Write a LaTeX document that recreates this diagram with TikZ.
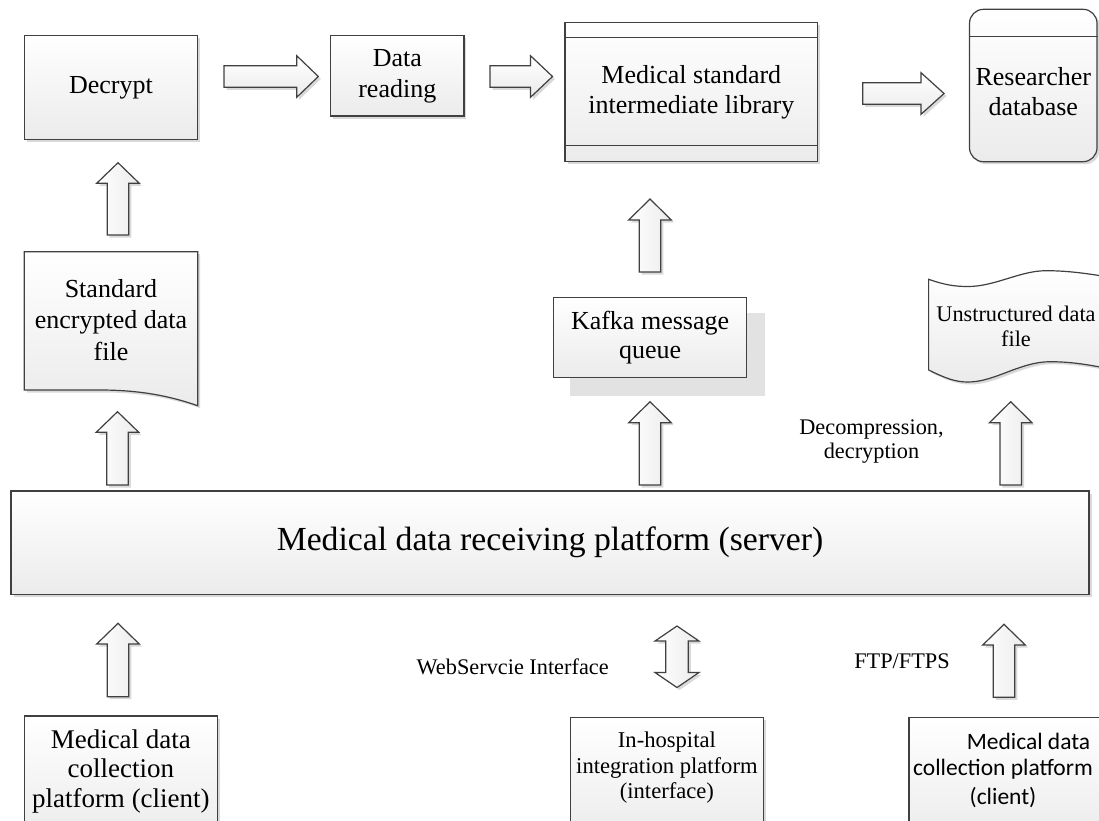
\documentclass[tikz,border=0pt]{standalone}
\usepackage{fontspec}
\setmainfont{Liberation Serif}
\newfontfamily\carlitofont{Carlito}
\usetikzlibrary{shadows}
\definecolor{linec}{HTML}{404040}
\definecolor{botc}{HTML}{EBEBEB}
\definecolor{shadc}{HTML}{D9D9D9}
\definecolor{bigshad}{HTML}{E2E2E2}
\tikzset{
  shapefill/.style={draw=linec, line width=1.2pt, top color=white, bottom color=botc},
  shadowed/.style={drop shadow={shadow xshift=2.5pt, shadow yshift=-2.5pt, fill=shadc, opacity=1}},
  box/.style={shapefill, rectangle, inner sep=0pt, align=center, font=\fontsize{26}{30}\selectfont},
  lbl/.style={inner sep=0pt, align=center, font=\fontsize{22.3}{24}\selectfont},
  vfill/.style={draw=linec, line width=1.2pt, left color=white, right color=botc, shadowed},
  hfill/.style={draw=linec, line width=1.2pt, top color=white, bottom color=botc, shadowed},
  sepline/.style={draw=linec, line width=1.2pt},
}
% block arrow pointing up: centre x, tip y, head base y, bottom y
\newcommand\blkup[4]{%
  \path[vfill] (#1-21.3,#3) -- (#1,#2) -- (#1+21.3,#3) -- (#1+10.8,#3) -- (#1+10.8,#4)
    -- (#1-10.8,#4) -- (#1-10.8,#3) -- cycle;}
% block arrow pointing right: centre y, left x, head base x, tip x
\newcommand\blkright[4]{%
  \path[hfill] (#2,#1-10.8) -- (#3,#1-10.8) -- (#3,#1-20.8) -- (#4,#1) -- (#3,#1+20.8)
    -- (#3,#1+10.8) -- (#2,#1+10.8) -- cycle;}
\begin{document}
\begin{tikzpicture}[x=1pt,y=-1pt]
\useasboundingbox (0,0) rectangle (1099,820);
\clip (0,0) rectangle (1099,820);

% ---------- top row ----------
\node[box, shadowed, minimum width=173.4pt, minimum height=103.6pt] (decrypt) at (111,87.5) {Decrypt};
\node[box, shadowed, minimum width=133.3pt, minimum height=80.3pt, font=\fontsize{26}{31}\selectfont] (reading) at (397.3,75.9) {Data\\reading};
\node[box, shadowed, minimum width=252.7pt, minimum height=138.6pt, font=\fontsize{26}{30}\selectfont] (medlib) at (691.35,92) {Medical standard\\intermediate library};
\draw[sepline] ([yshift=-15.6pt]medlib.north west) -- ([yshift=-15.6pt]medlib.north east);
\draw[sepline] ([yshift=16.3pt]medlib.south west) -- ([yshift=16.3pt]medlib.south east);

\node[box, shadowed, rounded corners=14pt, minimum width=127.5pt, minimum height=152.4pt] (resdb) at (1033.25,85.5) {};
\draw[sepline] ([yshift=-28pt]resdb.north west) -- ([yshift=-28pt]resdb.north east);
\node[inner sep=0pt, align=center, font=\fontsize{26}{30}\selectfont] (restext) at (1033.25,92) {Researcher\\database};

\blkright{76.5}{224}{296.7}{318.3}
\blkright{76.5}{490}{530.5}{552.5}
\blkright{93.5}{862.7}{921}{944}

% ---------- middle row ----------
\blkup{118}{162.7}{183.3}{235}
\path[shapefill, shadowed] (24.3,251.7) -- (197.7,251.7) -- (197.7,405.7)
  .. controls (170,396) and (140,390) .. (100,390) -- (24.3,390) -- cycle;
\node[inner sep=0pt, align=center, font=\fontsize{26}{31.5}\selectfont] (stddoc) at (111,320) {Standard\\encrypted data\\file};

\blkup{650}{199}{220}{272}
\fill[bigshad] (570,313.3) rectangle (765,395.7);
\node[box, minimum width=193.5pt, minimum height=80pt, font=\fontsize{26}{29}\selectfont] (kafka) at (650.05,337.7) {Kafka message\\queue};

\path[shapefill, shadowed] (928.6,279.3) .. controls (945,285) and (955,286.5) .. (968,286.5)
  .. controls (995,286.5) and (1020,270.7) .. (1046,270.7)
  .. controls (1070,270.7) and (1090,274) .. (1115,278)
  -- (1115,370)
  .. controls (1095,366) and (1075,361.7) .. (1050,361.7)
  .. controls (1020,361.7) and (995,382) .. (968,382)
  .. controls (955,382) and (945,378) .. (928.6,370) -- cycle;
\node[lbl, font=\fontsize{22.3}{25}\selectfont] (unstr) at (1016,326) {Unstructured data\\file};

\blkup{117.5}{411.7}{432.3}{485}
\blkup{650}{401.7}{422.7}{485}
\blkup{1010.7}{401.7}{422.7}{485}
\node[lbl, font=\fontsize{22.3}{23.5}\selectfont] (decomp) at (871.5,441.7) {Decompression,\\decryption};

% ---------- server ----------
\node[box, shadowed, minimum width=1078pt, minimum height=103.5pt, font=\fontsize{33.7}{40}\selectfont] (server) at (550,542.75) {Medical data receiving platform (server)};

% ---------- bottom row ----------
\blkup{118}{623.3}{644}{696.7}
\blkup{1004}{624.3}{645}{697.3}
\path[vfill] (677,626) -- (699,641) -- (688.3,641) -- (688.3,672.5) -- (699,672.5) -- (677,687.5)
  -- (655,672.5) -- (665.7,672.5) -- (665.7,641) -- (655,641) -- cycle;
\node[lbl] (web) at (512.7,666.7) {WebServcie Interface};
\node[lbl] (ftp) at (902,661.7) {FTP/FTPS};

\node[box, shadowed, minimum width=193.1pt, minimum height=124pt] (client1) at (120.85,778) {};
\node[inner sep=0pt, align=center, font=\fontsize{27}{29.5}\selectfont] (client1text) at (120.85,771) {Medical data\\collection\\platform (client)};

\node[box, shadowed, minimum width=193.2pt, minimum height=124pt] (inhosp) at (666.9,779.3) {};
\node[inner sep=0pt, align=center, font=\fontsize{22.6}{25.5}\selectfont] (inhosptext) at (666.9,768) {In-hospital\\integration platform\\(interface)};

\node[box, shadowed, minimum width=201pt, minimum height=124pt] (client2) at (1009.5,779.3) {};
\node[inner sep=0pt, font=\carlitofont\fontsize{23.5}{28}\selectfont] (c2a) at (1028.5,741) {Medical data};
\node[inner sep=0pt, font=\carlitofont\fontsize{23.5}{28}\selectfont] (c2b) at (1003,769) {collection platform};
\node[inner sep=0pt, font=\carlitofont\fontsize{23.5}{28}\selectfont] (c2c) at (1003,798) {(client)};
\end{tikzpicture}
\end{document}
